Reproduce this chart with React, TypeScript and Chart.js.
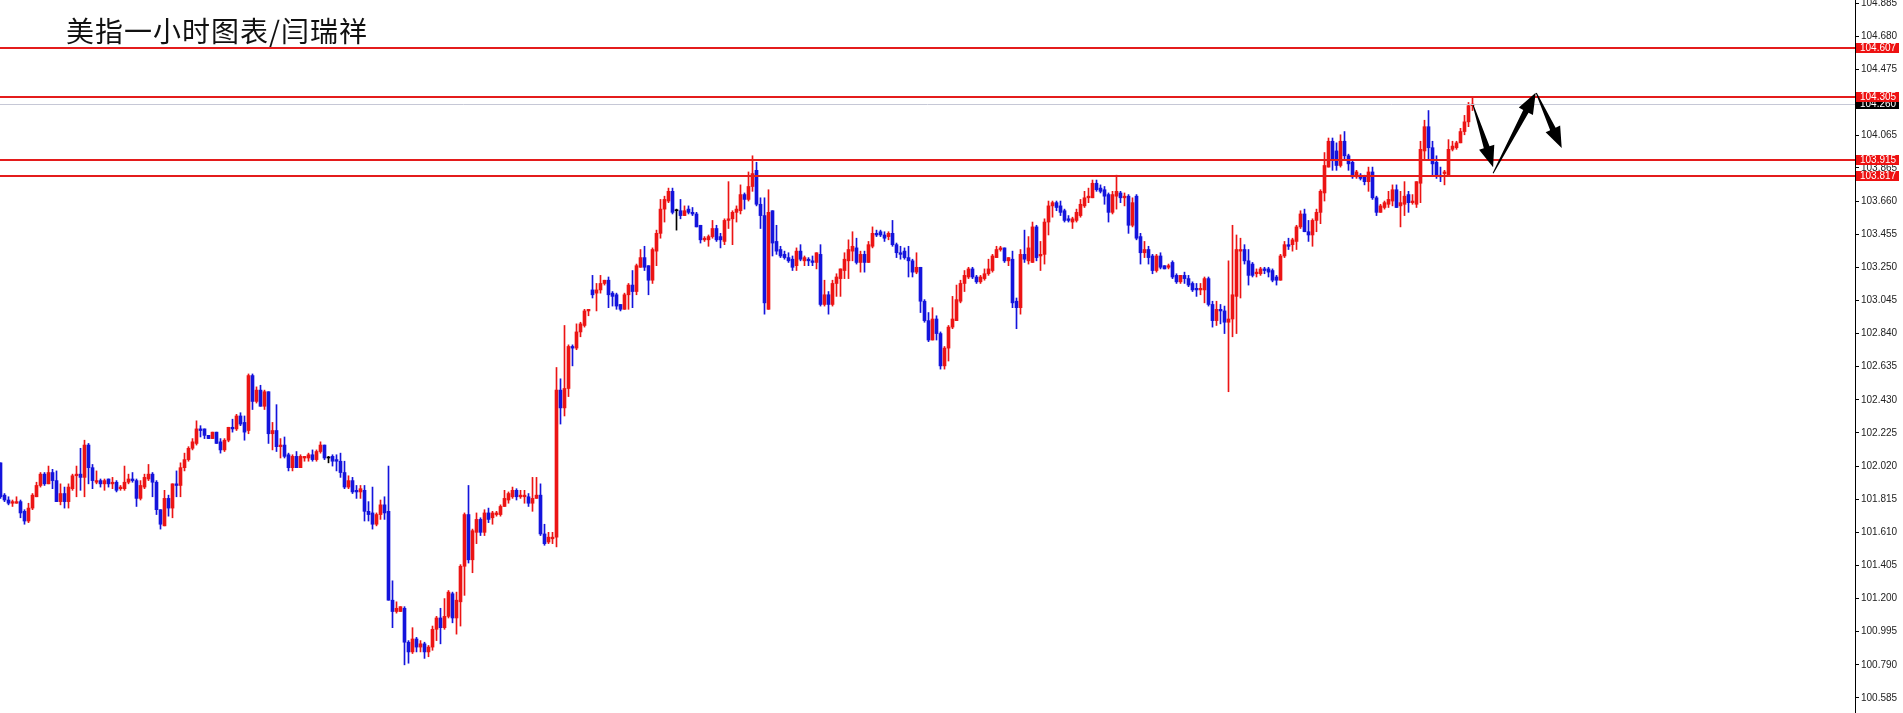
import { useEffect, useRef } from "react";
import { Chart, registerables } from "chart.js";

Chart.register(...registerables);

const title = "美指一小时图表/闫瑞祥";

const opens = [
102.04,101.84,101.81,101.79,101.79,101.80,101.74,101.68,101.76,101.83,101.90,101.97,101.91,101.98,101.93,101.80,101.85,101.80,101.88,101.96,101.97,101.95,102.15,102.01,101.92,101.93,101.91,101.94,101.91,101.92,101.88,101.88,101.92,101.94,101.93,101.82,101.89,101.94,101.97,101.92,101.75,101.65,101.82,101.76,101.91,101.90,102.01,102.06,102.13,102.16,102.25,102.25,102.21,102.19,102.23,102.17,102.12,102.18,102.26,102.25,102.33,102.29,102.24,
102.58,102.42,102.49,102.39,102.48,102.22,102.24,102.14,102.15,102.09,102.01,102.08,102.01,102.07,102.07,102.09,102.06,102.11,102.15,102.07,102.08,102.06,102.05,101.98,101.89,101.93,101.87,101.86,101.87,101.74,101.73,101.66,101.72,101.78,101.74,101.19,101.12,101.12,101.14,100.93,100.87,100.95,100.90,100.92,100.87,100.90,101.01,101.08,101.02,101.09,101.23,101.08,101.18,101.40,101.72,101.44,101.61,101.69,101.61,101.73,101.70,101.72,
101.72,101.77,101.81,101.83,101.87,101.83,101.83,101.83,101.79,101.82,101.84,101.60,101.55,101.57,101.58,102.49,102.38,102.50,102.76,102.75,102.85,102.89,102.98,103.11,103.09,103.11,103.15,103.17,103.09,103.08,103.02,102.99,103.08,103.14,103.10,103.25,103.31,103.26,103.17,103.35,103.46,103.61,103.66,103.72,103.60,103.60,103.57,103.61,103.59,103.58,103.51,103.42,103.42,103.44,103.49,103.44,103.41,103.54,103.55,103.59,103.60,103.70,103.67,
103.75,103.85,103.64,103.57,102.99,103.60,103.41,103.36,103.33,103.31,103.30,103.26,103.35,103.29,103.30,103.29,103.28,103.33,103.02,103.08,103.02,103.15,103.18,103.23,103.29,103.35,103.37,103.28,103.33,103.28,103.38,103.46,103.47,103.45,103.44,103.46,103.39,103.34,103.35,103.31,103.29,103.22,103.25,103.04,102.92,102.80,102.93,102.84,102.64,102.75,102.88,102.92,103.04,103.15,103.19,103.24,103.19,103.16,103.18,103.21,103.23,103.31,
103.36,103.37,103.29,103.30,103.04,103.00,103.33,103.29,103.28,103.50,103.32,103.33,103.53,103.63,103.65,103.63,103.60,103.55,103.53,103.54,103.57,103.63,103.68,103.68,103.77,103.74,103.73,103.70,103.59,103.69,103.71,103.68,103.69,103.51,103.69,103.44,103.34,103.36,103.32,103.23,103.32,103.26,103.25,103.28,103.20,103.16,103.20,103.18,103.15,103.12,103.11,103.11,103.18,103.02,102.92,102.99,102.98,102.91,102.93,103.07,103.35,103.36,103.29,
103.27,103.21,103.21,103.24,103.24,103.23,103.19,103.17,103.32,103.39,103.39,103.41,103.50,103.58,103.47,103.45,103.54,103.59,103.71,103.87,104.03,103.97,103.88,104.03,103.94,103.90,103.81,103.82,103.81,103.78,103.84,103.68,103.59,103.62,103.64,103.66,103.73,103.63,103.64,103.70,103.65,103.64,103.77,103.97,104.12,103.99,103.90,103.82,103.83,103.82,103.98,103.99,104.02,104.09,104.15,104.25
];

const highs = [
102.04,101.85,101.83,101.81,101.83,101.81,101.75,101.79,101.85,101.92,101.98,101.98,102.02,102.00,101.99,101.91,101.89,101.91,101.97,102.02,102.13,102.18,102.16,102.03,101.99,101.94,101.94,101.94,101.95,101.93,101.90,102.02,101.97,101.98,101.94,101.93,101.97,102.03,101.98,101.93,101.75,101.87,101.84,101.91,101.99,102.04,102.10,102.14,102.19,102.30,102.27,102.25,102.21,102.23,102.23,102.19,102.19,102.26,102.31,102.34,102.35,102.33,102.59,
102.59,102.51,102.52,102.49,102.48,102.29,102.40,102.19,102.20,102.10,102.09,102.11,102.09,102.08,102.10,102.12,102.12,102.17,102.15,102.08,102.09,102.09,102.10,102.05,101.96,101.95,101.90,101.90,101.90,101.80,101.89,101.73,101.81,101.83,102.02,101.31,101.18,101.15,101.15,100.94,101.02,100.96,100.94,100.93,100.91,101.03,101.09,101.14,101.20,101.25,101.24,101.24,101.41,101.73,101.90,101.63,101.73,101.70,101.75,101.76,101.74,101.74,
101.78,101.87,101.86,101.89,101.88,101.87,101.87,101.85,101.95,101.95,101.91,101.66,101.61,101.61,102.63,102.56,102.89,102.77,102.77,102.90,102.91,102.99,102.99,103.20,103.15,103.20,103.17,103.19,103.10,103.09,103.02,103.09,103.15,103.23,103.27,103.36,103.38,103.26,103.37,103.48,103.67,103.69,103.74,103.74,103.61,103.67,103.63,103.63,103.62,103.59,103.51,103.44,103.45,103.54,103.51,103.46,103.55,103.78,103.60,103.63,103.76,103.71,103.84,
103.94,103.90,103.68,103.68,103.73,103.60,103.51,103.38,103.35,103.34,103.32,103.37,103.39,103.32,103.31,103.32,103.34,103.39,103.17,103.10,103.17,103.21,103.24,103.34,103.42,103.47,103.43,103.35,103.35,103.41,103.50,103.48,103.48,103.47,103.47,103.54,103.40,103.38,103.37,103.38,103.30,103.34,103.25,103.05,102.97,103.00,102.95,102.85,102.76,102.89,103.07,103.14,103.17,103.23,103.25,103.25,103.20,103.20,103.24,103.30,103.33,103.38,
103.38,103.37,103.31,103.35,103.06,103.36,103.48,103.44,103.53,103.51,103.41,103.55,103.66,103.66,103.66,103.66,103.61,103.57,103.56,103.61,103.67,103.72,103.74,103.79,103.79,103.76,103.75,103.71,103.72,103.82,103.72,103.71,103.70,103.68,103.70,103.46,103.41,103.38,103.33,103.33,103.34,103.26,103.27,103.29,103.21,103.20,103.22,103.20,103.16,103.15,103.15,103.19,103.19,103.04,103.04,103.02,103.01,103.29,103.51,103.45,103.43,103.39,103.36,
103.28,103.24,103.25,103.25,103.25,103.24,103.20,103.33,103.41,103.43,103.43,103.51,103.60,103.61,103.54,103.55,103.61,103.73,103.96,104.05,104.05,104.02,104.07,104.09,103.95,103.91,103.85,103.83,103.82,103.87,103.87,103.69,103.64,103.66,103.72,103.76,103.76,103.72,103.78,103.72,103.70,103.78,104.03,104.16,104.22,104.03,103.94,103.87,103.85,104.04,104.03,104.03,104.11,104.19,104.27,104.30
];

const lows = [
101.82,101.80,101.78,101.77,101.79,101.70,101.66,101.67,101.75,101.83,101.89,101.90,101.91,101.88,101.80,101.78,101.76,101.76,101.87,101.83,101.87,101.83,101.91,101.88,101.91,101.89,101.87,101.89,101.88,101.86,101.87,101.87,101.91,101.92,101.77,101.81,101.88,101.93,101.83,101.72,101.63,101.65,101.71,101.70,101.83,101.83,101.99,102.05,102.12,102.15,102.20,102.19,102.19,102.19,102.16,102.10,102.11,102.17,102.23,102.24,102.27,102.18,102.22,
102.37,102.41,102.39,102.37,102.16,102.12,102.11,102.07,102.07,101.99,101.99,102.01,102.01,102.05,102.05,102.05,102.05,102.10,102.06,102.04,102.02,101.99,101.95,101.88,101.88,101.85,101.82,101.82,101.68,101.68,101.63,101.65,101.69,101.69,101.19,101.02,101.11,101.12,100.79,100.80,100.86,100.87,100.87,100.83,100.84,100.88,100.94,100.92,101.01,101.08,101.05,100.98,101.03,101.22,101.42,101.36,101.54,101.59,101.59,101.67,101.66,101.71,
101.71,101.77,101.79,101.82,101.81,101.82,101.79,101.77,101.74,101.82,101.59,101.53,101.54,101.54,101.52,102.28,102.33,102.45,102.64,102.74,102.82,102.88,102.95,103.06,102.98,103.09,103.14,103.00,103.01,102.99,102.98,102.99,102.99,103.00,103.08,103.25,103.23,103.08,103.15,103.26,103.43,103.53,103.65,103.58,103.48,103.55,103.57,103.58,103.57,103.50,103.40,103.41,103.38,103.43,103.41,103.37,103.39,103.49,103.39,103.53,103.58,103.61,103.66,
103.72,103.63,103.49,102.96,102.99,103.32,103.33,103.31,103.30,103.28,103.23,103.23,103.29,103.26,103.26,103.26,103.24,103.01,103.01,102.96,103.01,103.07,103.07,103.18,103.18,103.29,103.27,103.22,103.22,103.28,103.37,103.44,103.44,103.41,103.42,103.38,103.31,103.30,103.30,103.19,103.19,103.21,102.97,102.91,102.79,102.80,102.80,102.62,102.62,102.67,102.87,102.92,103.03,103.10,103.18,103.18,103.15,103.15,103.17,103.20,103.22,103.31,
103.35,103.28,103.26,103.00,102.87,102.96,103.28,103.27,103.28,103.29,103.23,103.27,103.45,103.56,103.60,103.57,103.53,103.53,103.49,103.53,103.56,103.62,103.65,103.68,103.72,103.71,103.64,103.53,103.58,103.61,103.65,103.63,103.46,103.50,103.42,103.27,103.31,103.27,103.21,103.22,103.24,103.24,103.24,103.18,103.15,103.15,103.15,103.13,103.10,103.07,103.08,103.03,103.01,102.88,102.89,102.90,102.84,102.48,102.82,102.84,103.06,103.27,103.14,
103.19,103.19,103.20,103.21,103.19,103.16,103.14,103.17,103.31,103.36,103.35,103.36,103.49,103.47,103.41,103.38,103.47,103.52,103.66,103.87,103.85,103.85,103.87,103.91,103.85,103.80,103.80,103.79,103.76,103.72,103.67,103.57,103.59,103.61,103.62,103.63,103.62,103.50,103.57,103.59,103.64,103.62,103.65,103.91,103.91,103.82,103.80,103.78,103.76,103.82,103.97,103.98,104.02,104.07,104.12,104.22
];

const closes = [
101.83,101.81,101.79,101.80,101.80,101.73,101.68,101.76,101.84,101.90,101.97,101.91,101.98,101.93,101.80,101.85,101.80,101.89,101.96,101.97,101.95,102.15,102.01,101.93,101.93,101.91,101.93,101.91,101.92,101.87,101.89,101.92,101.94,101.93,101.82,101.90,101.95,101.97,101.92,101.75,101.66,101.82,101.76,101.91,101.90,102.01,102.06,102.13,102.17,102.25,102.24,102.21,102.19,102.23,102.16,102.12,102.18,102.26,102.25,102.33,102.28,102.23,102.58,
102.42,102.49,102.39,102.48,102.22,102.24,102.14,102.15,102.08,102.01,102.08,102.01,102.08,102.08,102.09,102.06,102.11,102.15,102.07,102.07,102.05,102.05,101.98,101.89,101.93,101.86,101.86,101.88,101.74,101.72,101.66,101.72,101.78,101.73,101.19,101.12,101.14,101.15,100.93,100.87,100.95,100.90,100.92,100.87,100.90,101.01,101.08,101.02,101.09,101.24,101.08,101.19,101.40,101.72,101.44,101.62,101.69,101.61,101.73,101.69,101.73,101.73,
101.77,101.82,101.85,101.87,101.83,101.84,101.84,101.79,101.82,101.84,101.60,101.54,101.58,101.58,102.49,102.38,102.50,102.76,102.75,102.85,102.90,102.98,102.99,103.08,103.11,103.15,103.17,103.08,103.07,103.01,102.99,103.08,103.14,103.10,103.26,103.31,103.25,103.17,103.36,103.46,103.61,103.67,103.72,103.59,103.60,103.57,103.60,103.59,103.58,103.50,103.42,103.43,103.44,103.49,103.42,103.42,103.54,103.55,103.59,103.61,103.70,103.67,103.75,
103.83,103.64,103.57,103.03,103.59,103.40,103.35,103.32,103.31,103.29,103.25,103.35,103.30,103.31,103.29,103.28,103.34,103.02,103.08,103.02,103.15,103.19,103.24,103.30,103.36,103.38,103.28,103.33,103.28,103.39,103.46,103.45,103.45,103.43,103.46,103.39,103.34,103.33,103.31,103.29,103.22,103.25,103.04,102.92,102.80,102.93,102.84,102.64,102.75,102.88,102.93,103.05,103.15,103.20,103.24,103.19,103.16,103.19,103.21,103.24,103.32,103.36,
103.37,103.29,103.31,103.03,103.00,103.33,103.30,103.37,103.50,103.31,103.33,103.53,103.63,103.65,103.62,103.59,103.54,103.54,103.55,103.59,103.64,103.68,103.69,103.77,103.73,103.72,103.69,103.59,103.70,103.72,103.68,103.69,103.51,103.65,103.43,103.34,103.36,103.31,103.23,103.32,103.25,103.24,103.26,103.19,103.16,103.20,103.18,103.14,103.11,103.11,103.12,103.18,103.02,102.92,102.99,102.98,102.91,102.93,103.08,103.36,103.36,103.29,103.20,
103.20,103.22,103.24,103.23,103.22,103.17,103.17,103.32,103.39,103.38,103.42,103.50,103.58,103.47,103.45,103.54,103.59,103.72,103.88,104.03,103.91,103.88,104.03,103.94,103.89,103.81,103.84,103.80,103.78,103.84,103.68,103.59,103.63,103.65,103.67,103.73,103.62,103.65,103.69,103.65,103.66,103.78,103.98,104.12,103.99,103.89,103.82,103.81,103.84,103.98,104.00,104.02,104.09,104.15,104.25,104.26
];

const tickValues = [104.885, 104.68, 104.475, 104.27, 104.065, 103.865, 103.66, 103.455, 103.25, 103.045, 102.84, 102.635, 102.43, 102.225, 102.02, 101.815, 101.61, 101.405, 101.2, 100.995, 100.79, 100.585];

const levelPrices = [104.607, 104.305, 103.915, 103.817];
const levelLabels = ["104.607", "104.305", "103.915", "103.817"];
const currentPrice = 104.26;
const currentLabel = "104.260";

// hand-drawn forecast arrows (bar index, price)
const arrowFromIdx = [368.15, 373.15, 383.95];
const arrowFromPrice = [104.254, 103.832, 104.328];
const arrowToIdx = [373.15, 383.8, 390.3];
const arrowToPrice = [103.869, 104.33, 103.988];

const Y_MIN = 100.492;
const Y_MAX = 104.904;
const X_MIN = -0.125;
const X_MAX = 463.625;

const UP = "#ec1414";
const DOWN = "#1414dc";
const LINE_RED = "#e41c1c";
const AXIS_FONT = "10px 'Liberation Sans', Arial, sans-serif";

function drawArrow(ctx: CanvasRenderingContext2D, x1: number, y1: number, x2: number, y2: number) {
  const dx = x2 - x1;
  const dy = y2 - y1;
  const len = Math.hypot(dx, dy);
  const ux = dx / len;
  const uy = dy / len;
  const nx = -uy;
  const ny = ux;
  const hl = Math.min(21, len * 0.38);
  const hw = 8;
  const w0 = 0.5;
  const w1 = 3;
  const bx = x2 - ux * hl;
  const by = y2 - uy * hl;
  ctx.beginPath();
  ctx.moveTo(x1 + nx * w0, y1 + ny * w0);
  ctx.lineTo(bx + nx * w1, by + ny * w1);
  ctx.lineTo(bx + nx * hw, by + ny * hw);
  ctx.lineTo(x2, y2);
  ctx.lineTo(bx - nx * hw, by - ny * hw);
  ctx.lineTo(bx - nx * w1, by - ny * w1);
  ctx.lineTo(x1 - nx * w0, y1 - ny * w0);
  ctx.closePath();
  ctx.fill();
}

const overlayPlugin = {
  id: "overlay",
  afterDatasetsDraw(chart: any) {
    const { ctx, chartArea } = chart;
    const xs = chart.scales.x;
    const ys = chart.scales.y;
    ctx.save();
    const yc = Math.round(ys.getPixelForValue(currentPrice)) + 0.5;
    ctx.strokeStyle = "#c6c8d6";
    ctx.lineWidth = 1;
    ctx.beginPath();
    ctx.moveTo(chartArea.left, yc);
    ctx.lineTo(chartArea.right, yc);
    ctx.stroke();
    ctx.strokeStyle = LINE_RED;
    ctx.lineWidth = 2;
    levelPrices.forEach((p) => {
      const y = Math.round(ys.getPixelForValue(p));
      ctx.beginPath();
      ctx.moveTo(chartArea.left, y);
      ctx.lineTo(chartArea.right, y);
      ctx.stroke();
    });
    ctx.fillStyle = "#000";
    arrowFromIdx.forEach((fi, k) => {
      drawArrow(
        ctx,
        xs.getPixelForValue(fi),
        ys.getPixelForValue(arrowFromPrice[k]),
        xs.getPixelForValue(arrowToIdx[k]),
        ys.getPixelForValue(arrowToPrice[k])
      );
    });
    ctx.restore();
  },
  afterDraw(chart: any) {
    const { ctx, chartArea } = chart;
    const ys = chart.scales.y;
    const left = chartArea.right + 1;
    ctx.save();
    ctx.font = AXIS_FONT;
    ctx.textBaseline = "middle";
    ctx.textAlign = "left";
    const box = (y: number, bg: string, text: string) => {
      ctx.fillStyle = bg;
      ctx.fillRect(left, Math.round(y) - 5, 43, 10);
      ctx.fillStyle = "#fff";
      ctx.fillText(text, left + 4, Math.round(y) + 0.5);
    };
    box(ys.getPixelForValue(currentPrice), "#000", currentLabel);
    levelPrices.forEach((p, i) => box(ys.getPixelForValue(p), "#ee1111", levelLabels[i]));
    ctx.restore();
  },
};

export default function App() {
  const canvasRef = useRef<HTMLCanvasElement | null>(null);

  useEffect(() => {
    document.body.style.margin = "0";
    document.body.style.overflow = "hidden";
    const canvas = canvasRef.current;
    if (!canvas) return;
    const colors = opens.map((o, i) => (closes[i] > o ? UP : closes[i] < o ? DOWN : "#000"));
    const chart = new Chart(canvas, {
      type: "bar",
      data: {
        datasets: [
          {
            label: "body",
            data: opens.map((o, i) => ({ x: i, y: [o, closes[i]] })) as any,
            backgroundColor: colors,
            barThickness: 3,
            minBarLength: 1,
            grouped: false,
          } as any,
          {
            label: "wick",
            data: lows.map((l, i) => ({ x: i, y: [l, highs[i]] })) as any,
            backgroundColor: colors,
            barThickness: 1,
            grouped: false,
          } as any,
        ],
      },
      options: {
        animation: false,
        responsive: false,
        devicePixelRatio: 1,
        layout: { padding: 0 },
        events: [],
        plugins: {
          legend: { display: false },
          tooltip: { enabled: false },
          title: { display: false },
        },
        scales: {
          x: {
            type: "linear",
            display: false,
            min: X_MIN,
            max: X_MAX,
            offset: false,
          },
          y: {
            type: "linear",
            position: "right",
            min: Y_MIN,
            max: Y_MAX,
            beginAtZero: false,
            afterBuildTicks: (s: any) => {
              s.ticks = tickValues.map((v) => ({ value: v }));
            },
            afterFit: (s: any) => {
              s.width = 48;
              s.paddingTop = 0;
              s.paddingBottom = 0;
            },
            ticks: {
              autoSkip: false,
              padding: 2,
              color: "#222",
              font: { family: "'Liberation Sans', Arial, sans-serif", size: 10 },
              callback: (v: any) => Number(v).toFixed(3),
            },
            grid: {
              drawOnChartArea: false,
              drawTicks: true,
              tickLength: 4,
              color: "#000",
              lineWidth: 1,
            },
            border: { display: true, color: "#000", width: 1 },
          },
        },
      } as any,
      plugins: [overlayPlugin],
    });
    return () => chart.destroy();
  }, []);

  return (
    <div style={{ position: "relative", width: 1903, height: 713, overflow: "hidden", background: "#fff" }}>
      <canvas ref={canvasRef} width={1903} height={713} style={{ display: "block" }} />
      <div
        style={{
          position: "absolute",
          left: 66,
          top: 16,
          fontFamily: "'Noto Sans CJK SC', sans-serif",
          fontSize: 28,
          lineHeight: 1,
          letterSpacing: 1,
          color: "#111",
          whiteSpace: "nowrap",
        }}
      >
        {title}
      </div>
    </div>
  );
}
